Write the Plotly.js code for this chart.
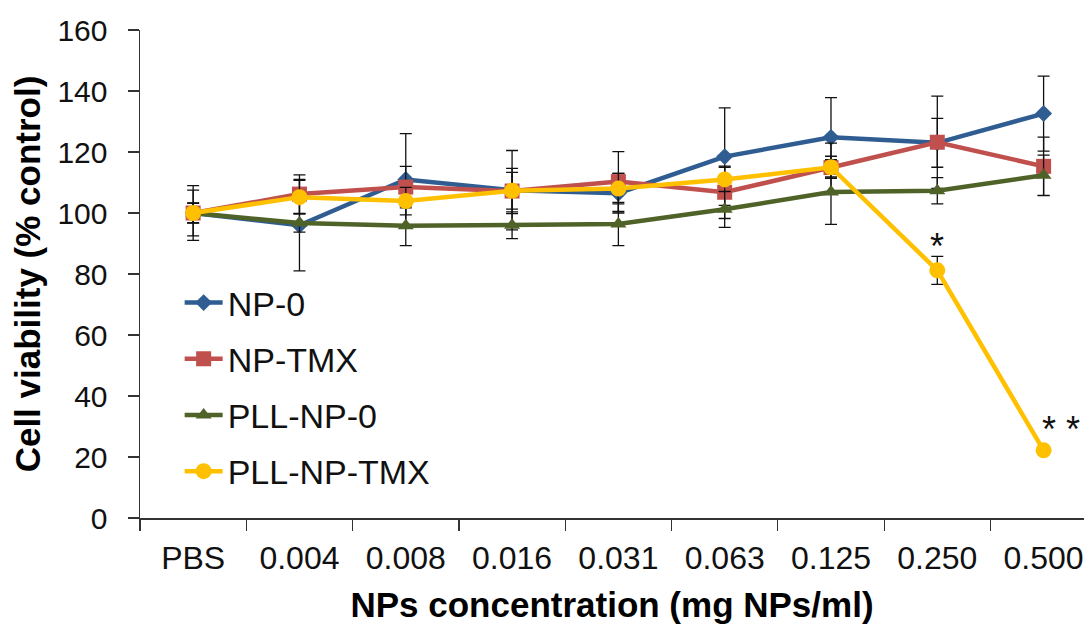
<!DOCTYPE html>
<html>
<head>
<meta charset="utf-8">
<script src="https://cdn.plot.ly/plotly-3.0.1.min.js"></script>
<style>
  html, body { margin: 0; padding: 0; background: #fff; }
  #chart { width: 1084px; height: 624px; }
</style>
</head>
<body>
<div id="chart"></div>
<script>
// ---- data ----
const categories = ["PBS", "0.004", "0.008", "0.016", "0.031", "0.063", "0.125", "0.250", "0.500"];

const np0      = [100, 96.0, 111.0, 107.5, 106.5, 118.5, 124.8, 123.0, 132.6];
const np0Err   = [9.0, 15.0, 15.0, 13.0, 6.5, 16.0, 13.0, 8.0, 12.3];

const npTmx    = [100, 106.2, 108.5, 107.2, 110.3, 106.8, 114.9, 123.2, 115.3];
const npTmxErr = [7.5, 6.3, 6.8, 7.4, 9.8, 8.6, 8.0, 15.1, 9.6];

const pllNp0    = [100, 96.7, 95.8, 96.0, 96.4, 101.2, 106.9, 107.3, 112.4];
const pllNp0Err = [3.2, 3.0, 6.5, 4.4, 7.1, 5.9, 10.6, 4.3, 6.6];

const pllNpTmx    = [100, 105.2, 103.9, 107.3, 108.0, 111.0, 115.0, 81.2, 22.2];
const pllNpTmxErr = [3.3, 5.5, 4.5, 6.0, 5.0, 4.0, 3.6, 4.6, 1.0];

const seriesNames = ["NP-0", "NP-TMX", "PLL-NP-0", "PLL-NP-TMX"];
const sigCats   = ["0.250", "0.500"];
const sigY      = [89, 29];
const sigTexts  = ["*", "* *"];

// ---- styles ----
const colors  = ["#2F5D92", "#C0504D", "#4F6228", "#FFC000"];
const symbols = ["diamond", "square", "triangle-up", "circle"];
const sizes   = [13, 15, 14, 16];
const vals = [np0, npTmx, pllNp0, pllNpTmx];
const errs = [np0Err, npTmxErr, pllNp0Err, pllNpTmxErr];

const traces = seriesNames.map((name, i) => ({
  type: "scatter",
  mode: "lines+markers",
  name: name,
  legendgroup: "g" + i,
  x: categories,
  y: vals[i],
  error_y: { type: "data", array: errs[i], visible: true, color: "#111", thickness: 1.3, width: 6 },
  line: { color: colors[i], width: 4.5 },
  marker: { color: colors[i], symbol: symbols[i], size: sizes[i], line: { width: 0 } }
}));

const axisFont = "Liberation Sans, Arial, sans-serif";

const layout = {
  width: 1084, height: 624,
  margin: { l: 140, r: 0, t: 30, b: 106 },
  paper_bgcolor: "#fff",
  plot_bgcolor: "#fff",
  showlegend: true,
  legend: {
    x: 0.042, y: 0.50, xanchor: "left", yanchor: "top",
    font: { family: axisFont, size: 34, color: "#111" },
    bgcolor: "rgba(0,0,0,0)", borderwidth: 0,
    itemwidth: 38,
    traceorder: "grouped", tracegroupgap: 9
  },
  xaxis: {
    type: "category",
    range: [-0.5, 8.38],
    tickson: "boundaries",
    ticks: "outside", ticklen: 11, tickwidth: 1.2, tickcolor: "#333",
    showline: true, linecolor: "#333", linewidth: 1.5,
    showgrid: false, zeroline: false,
    tickfont: { family: axisFont, size: 32, color: "#111" },
    ticklabelstandoff: 11,
    title: { text: "<b>NPs concentration (mg NPs/ml)</b>", font: { family: axisFont, size: 35, color: "#000" }, standoff: 17 }
  },
  yaxis: {
    range: [0, 160], dtick: 20,
    ticks: "outside", ticklen: 11, tickwidth: 1.2, tickcolor: "#333",
    showline: true, linecolor: "#333", linewidth: 1.5,
    showgrid: false, zeroline: false,
    tickfont: { family: axisFont, size: 30, color: "#111" },
    ticklabelstandoff: 14,
    title: { text: "<b>Cell viability (% control)</b>", font: { family: axisFont, size: 35, color: "#000" }, standoff: 6 }
  },
  annotations: sigTexts.map((t, i) => ({
    x: categories.indexOf(sigCats[i]), y: sigY[i], xref: "x", yref: "y", text: t, showarrow: false,
    xanchor: t.length > 1 ? "left" : "center",
    xshift: t.length > 1 ? -4 : 0,
    font: { family: axisFont, size: 36, color: "#111" }
  }))
};

Plotly.newPlot("chart", traces, layout, { displayModeBar: false, staticPlot: true });
</script>
</body>
</html>
